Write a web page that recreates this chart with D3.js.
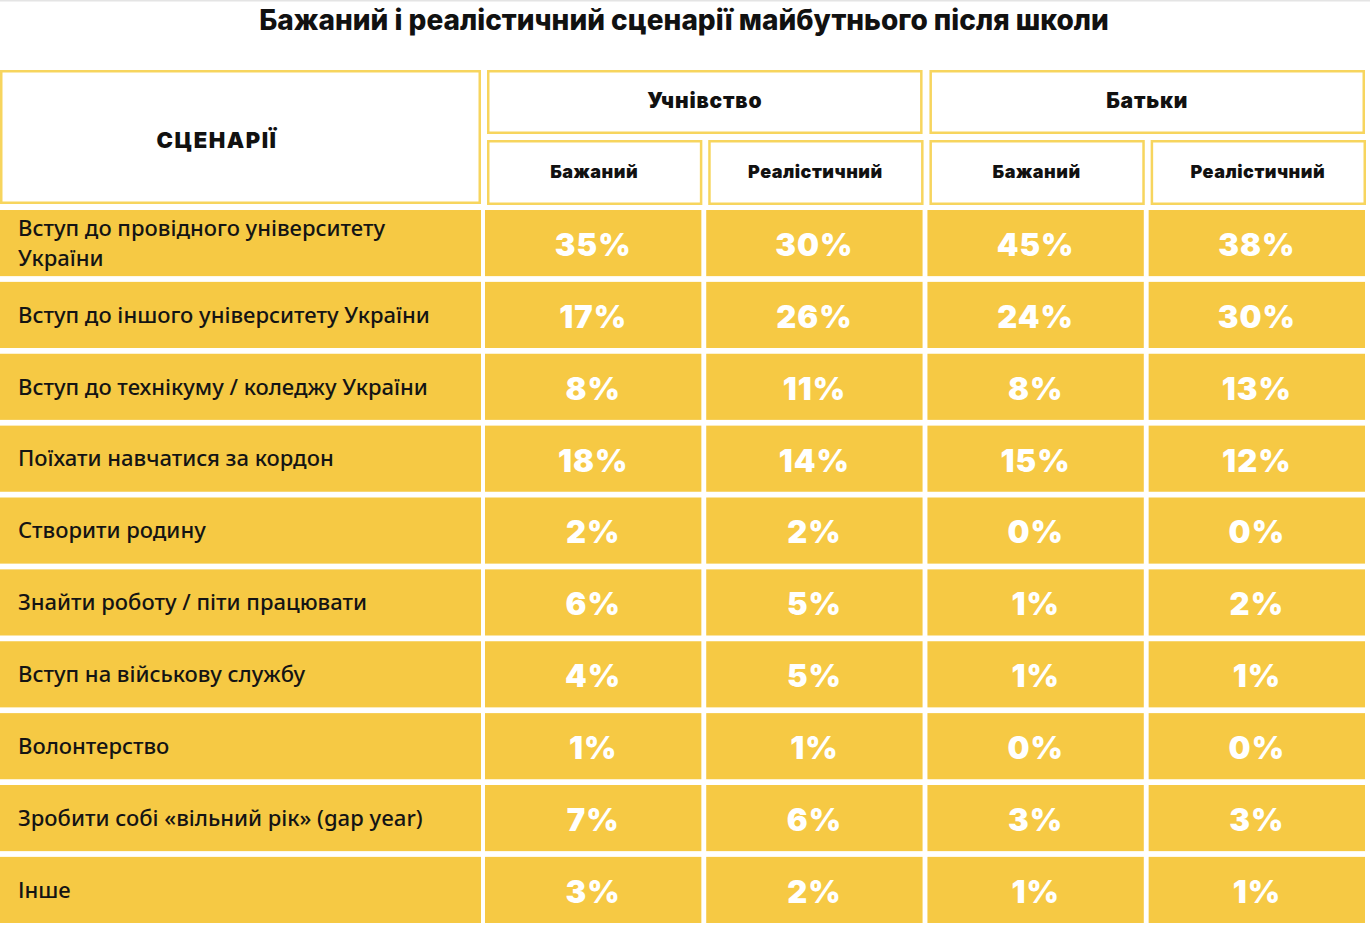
<!DOCTYPE html>
<html>
<head>
<meta charset="utf-8">
<script src="https://cdn.jsdelivr.net/npm/d3@7"></script>
<style>
  html, body { margin: 0; padding: 0; background: #fff; }
  svg { display: block; }
</style>
</head>
<body>
<svg id="chart" width="1370" height="928"></svg>
<script>
const title = "Бажаний і реалістичний сценарії майбутнього після школи";
const firstHeader = "СЦЕНАРІЇ";
const groups = ["Учнівство", "Батьки"];
const subHeaders = ["Бажаний", "Реалістичний", "Бажаний", "Реалістичний"];
const categories = [
  "Вступ до провідного університету України",
  "Вступ до іншого університету України",
  "Вступ до технікуму / коледжу України",
  "Поїхати навчатися за кордон",
  "Створити родину",
  "Знайти роботу / піти працювати",
  "Вступ на військову службу",
  "Волонтерство",
  "Зробити собі «вільний рік» (gap year)",
  "Інше"
];
const pupilsDesired    = [35, 17, 8, 18, 2, 6, 4, 1, 7, 3];
const pupilsRealistic  = [30, 26, 11, 14, 2, 5, 5, 1, 6, 2];
const parentsDesired   = [45, 24, 8, 15, 0, 1, 1, 0, 3, 1];
const parentsRealistic = [38, 30, 13, 12, 0, 2, 1, 0, 3, 1];

const series = [pupilsDesired, pupilsRealistic, parentsDesired, parentsRealistic];

const YELLOW = "#f6c944";
const BORDER = "#f7d55e";

const svg = d3.select("#chart");

svg.append("rect").attr("x", 0).attr("y", 0).attr("width", 1370).attr("height", 1.5).attr("fill", "#e4e4e4");

svg.append("text")
  .attr("x", 684).attr("y", 30)
  .attr("text-anchor", "middle")
  .attr("font-family", "Inter, 'Noto Sans', sans-serif")
  .attr("font-weight", 800)
  .attr("font-size", 28)
  .attr("fill", "#111")
  .text(title);

const x = d3.scaleBand().domain(d3.range(4)).range([485, 1365]).paddingInner(0.022);
const y = d3.scaleBand().domain(categories).range([210, 923]).paddingInner(0.08);
const labelX0 = 0, labelX1 = 481;

const hdr = svg.append("g");
const sw = 2.5;
function hcell(x0, y0, w, h) {
  hdr.append("rect")
    .attr("x", x0 + sw / 2).attr("y", y0 + sw / 2)
    .attr("width", w - sw).attr("height", h - sw)
    .attr("fill", "#fff").attr("stroke", BORDER).attr("stroke-width", sw);
}
hcell(labelX0, 70, labelX1 - labelX0, 134);
hdr.append("text")
  .attr("x", 217).attr("y", 140).attr("dy", "0.35em")
  .attr("text-anchor", "middle")
  .attr("font-family", "Inter, sans-serif").attr("font-weight", 900)
  .attr("font-size", 22).attr("letter-spacing", 1.5).attr("fill", "#111")
  .text(firstHeader);

groups.forEach((g, i) => {
  const a = x(i * 2), b = x(i * 2 + 1) + x.bandwidth();
  hcell(a + 2, 70, b - a - 2, 64);
  hdr.append("text")
    .attr("x", (a + b) / 2 + 1).attr("y", 101).attr("dy", "0.35em")
    .attr("text-anchor", "middle")
    .attr("font-family", "Inter, sans-serif").attr("font-weight", 900)
    .attr("font-size", 21).attr("letter-spacing", 0.8).attr("fill", "#111")
    .text(g);
});
subHeaders.forEach((s, i) => {
  const a = x(i);
  hcell(a + 2, 140, x.bandwidth() - 1, 65);
  hdr.append("text")
    .attr("x", a + x.bandwidth() / 2 + 1).attr("y", 172).attr("dy", "0.35em")
    .attr("text-anchor", "middle")
    .attr("font-family", "Inter, sans-serif").attr("font-weight", 900)
    .attr("font-size", 18).attr("letter-spacing", 0.5).attr("fill", "#111")
    .text(s);
});

const rows = svg.append("g").selectAll("g").data(categories).join("g")
  .attr("transform", d => `translate(0,${y(d)})`);

rows.append("rect")
  .attr("x", labelX0).attr("y", 0)
  .attr("width", labelX1 - labelX0).attr("height", y.bandwidth())
  .attr("fill", YELLOW);

const labels = rows.append("text")
  .attr("font-family", "'Noto Sans', sans-serif").attr("font-weight", 500)
  .attr("font-size", 22).attr("fill", "#141414")
  .attr("x", 18);

labels.each(function(d) {
  const t = d3.select(this);
  const words = d.split(" ");
  let lines = [], cur = [];
  const probe = t.append("tspan");
  words.forEach(w => {
    const test = cur.concat([w]).join(" ");
    probe.text(test);
    if (probe.node().getComputedTextLength() > 440 && cur.length) {
      lines.push(cur.join(" "));
      cur = [w];
    } else cur.push(w);
  });
  lines.push(cur.join(" "));
  probe.remove();
  const lh = 30;
  const startY = y.bandwidth() / 2 - (lines.length - 1) * lh / 2;
  lines.forEach((ln, i) => {
    t.append("tspan").attr("x", 18).attr("y", startY + i * lh).attr("dy", "0.35em").text(ln);
  });
});

series.forEach((vals, ci) => {
  rows.append("rect")
    .attr("x", x(ci)).attr("y", 0)
    .attr("width", x.bandwidth()).attr("height", y.bandwidth())
    .attr("fill", YELLOW);
  rows.append("text")
    .attr("x", x(ci) + x.bandwidth() / 2)
    .attr("y", y.bandwidth() / 2 + 2).attr("dy", "0.35em")
    .attr("text-anchor", "middle")
    .attr("font-family", "Inter, sans-serif").attr("font-weight", 900)
    .attr("font-size", 31).attr("letter-spacing", 1)
    .attr("fill", "#fff")
    .text((d, i) => vals[i] + "%");
});
</script>
</body>
</html>
